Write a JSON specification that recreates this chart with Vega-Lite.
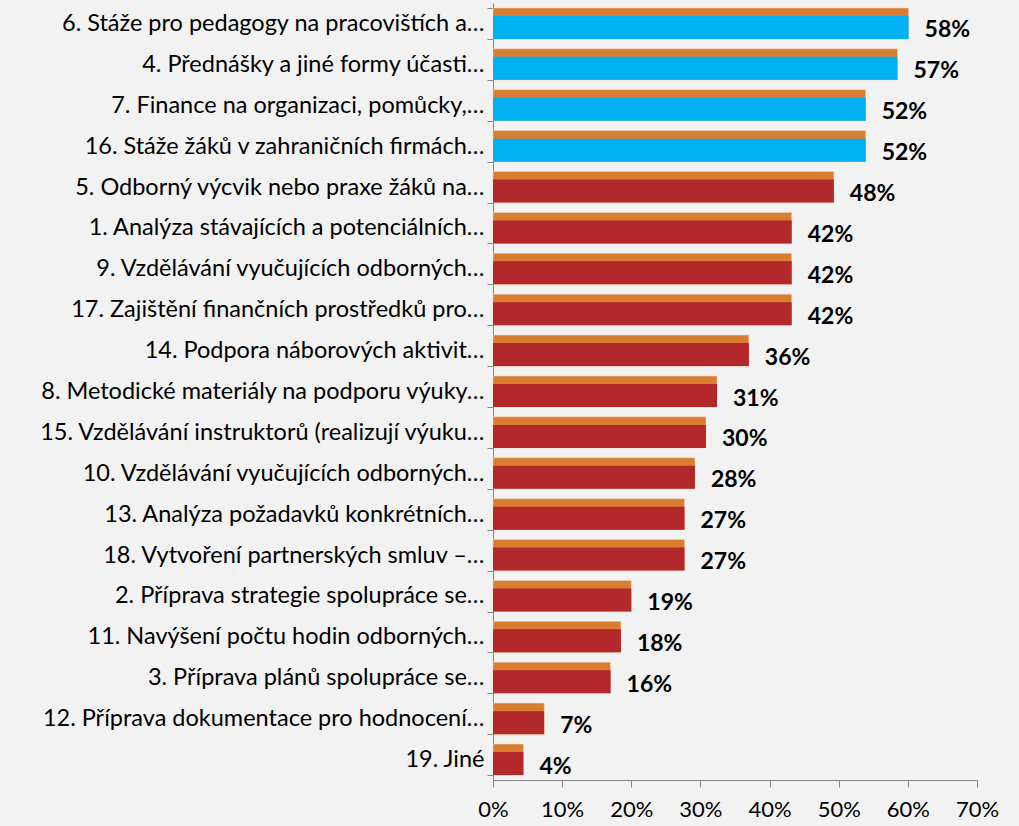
{
  "$schema": "https://vega.github.io/schema/vega-lite/v6.json",
  "autosize": {"type": "none"},
  "width": 484,
  "height": 777,
  "padding": {"left": 493, "top": 3, "right": 42, "bottom": 46},
  "background": "#f2f2f2",
  "config": {"view": {"stroke": null}, "font": "Lato"},
  "data": {"values": [
    {"cat": "6. Stáže pro pedagogy na pracovištích a…", "value": 60.1, "label": "58%", "grp": "top"},
    {"cat": "4. Přednášky a jiné formy účasti…", "value": 58.5, "label": "57%", "grp": "top"},
    {"cat": "7. Finance na organizaci, pomůcky,…", "value": 53.9, "label": "52%", "grp": "top"},
    {"cat": "16. Stáže žáků v zahraničních firmách…", "value": 53.9, "label": "52%", "grp": "top"},
    {"cat": "5. Odborný výcvik nebo praxe žáků na…", "value": 49.3, "label": "48%", "grp": "rest"},
    {"cat": "1. Analýza stávajících a potenciálních…", "value": 43.2, "label": "42%", "grp": "rest"},
    {"cat": "9. Vzdělávání vyučujících odborných…", "value": 43.2, "label": "42%", "grp": "rest"},
    {"cat": "17. Zajištění finančních prostředků pro…", "value": 43.2, "label": "42%", "grp": "rest"},
    {"cat": "14. Podpora náborových aktivit…", "value": 37.0, "label": "36%", "grp": "rest"},
    {"cat": "8. Metodické materiály na podporu výuky…", "value": 32.4, "label": "31%", "grp": "rest"},
    {"cat": "15. Vzdělávání instruktorů (realizují výuku…", "value": 30.8, "label": "30%", "grp": "rest"},
    {"cat": "10. Vzdělávání vyučujících odborných…", "value": 29.2, "label": "28%", "grp": "rest"},
    {"cat": "13. Analýza požadavků konkrétních…", "value": 27.7, "label": "27%", "grp": "rest"},
    {"cat": "18. Vytvoření partnerských smluv –…", "value": 27.7, "label": "27%", "grp": "rest"},
    {"cat": "2. Příprava strategie spolupráce se…", "value": 20.0, "label": "19%", "grp": "rest"},
    {"cat": "11. Navýšení počtu hodin odborných…", "value": 18.5, "label": "18%", "grp": "rest"},
    {"cat": "3. Příprava plánů spolupráce se…", "value": 17.0, "label": "16%", "grp": "rest"},
    {"cat": "12. Příprava dokumentace pro hodnocení…", "value": 7.4, "label": "7%", "grp": "rest"},
    {"cat": "19. Jiné", "value": 4.4, "label": "4%", "grp": "rest"}
  ]},
  "encoding": {
    "y": {
      "field": "cat", "type": "nominal", "sort": null, "title": null,
      "scale": {"paddingInner": 0.24, "paddingOuter": 0.12},
      "axis": {
        "labelFontSize": 23.5, "labelColor": "#000000", "labelLimit": 500, "labelPadding": 3,
        "domainColor": "#868686", "tickColor": "#868686", "tickSize": 6, "tickBand": "extent",
        "labelFont": "Lato"
      }
    },
    "x": {
      "field": "value", "type": "quantitative", "title": null,
      "scale": {"domain": [0, 70]},
      "axis": {
        "values": [0, 10, 20, 30, 40, 50, 60, 70],
        "labelExpr": "datum.value + '%'",
        "labelFontSize": 22, "labelColor": "#000000", "labelPadding": 12,
        "domainColor": "#868686", "tickColor": "#868686", "tickSize": 7,
        "grid": false, "labelFont": "Lato", "labelFlush": false
      }
    }
  },
  "layer": [
    {"mark": {"type": "bar", "color": "#d97e30", "stroke": "#f0d4c4", "strokeWidth": 0.5}},
    {
      "mark": {"type": "bar", "height": 23, "yOffset": 4},
      "encoding": {
        "color": {
          "field": "grp", "type": "nominal", "legend": null,
          "scale": {"domain": ["top", "rest"], "range": ["#00b0f0", "#b3282a"]}
        }
      }
    },
    {
      "mark": {"type": "text", "align": "left", "baseline": "middle", "dx": 16, "dy": 7, "fontSize": 23, "fontWeight": "bold", "font": "Lato", "color": "#000000"},
      "encoding": {"text": {"field": "label"}}
    }
  ]
}
